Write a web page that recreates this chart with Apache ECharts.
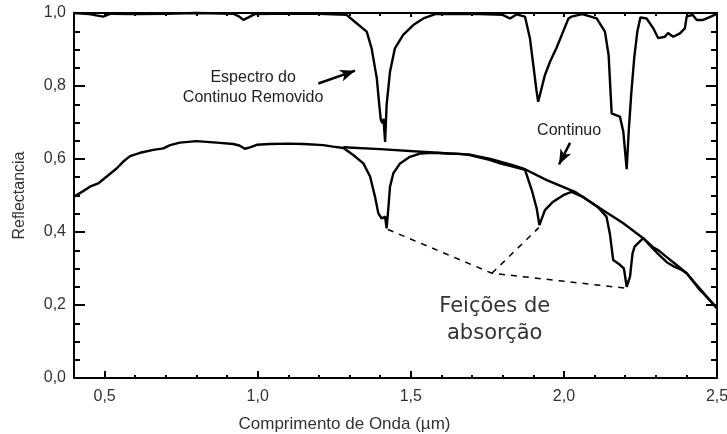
<!DOCTYPE html>
<html>
<head>
<meta charset="utf-8">
<script src="https://cdn.jsdelivr.net/npm/echarts@6/dist/echarts.min.js"></script>
<style>
  html, body { margin: 0; padding: 0; background: #fff; }
  #chart { width: 727px; height: 434px; }
</style>
</head>
<body>
<div id="chart"></div>
<script>
// Reflectance spectrum (µm, reflectance)
const specWl = [0.40, 0.43, 0.452, 0.479, 0.507, 0.539, 0.561, 0.583, 0.616, 0.659, 0.692, 0.714, 0.746, 0.80, 0.866, 0.92, 0.94, 0.958, 0.975, 0.997, 1.04, 1.10, 1.149, 1.214, 1.246, 1.28, 1.312, 1.345, 1.367, 1.383, 1.394, 1.405, 1.416, 1.421, 1.427, 1.432, 1.443, 1.465, 1.497, 1.53, 1.573, 1.62, 1.661, 1.693, 1.726, 1.76, 1.791, 1.83, 1.873, 1.895, 1.911, 1.92, 1.938, 1.965, 1.998, 2.025, 2.06, 2.09, 2.112, 2.139, 2.15, 2.161, 2.183, 2.196, 2.205, 2.216, 2.224, 2.231, 2.259, 2.29, 2.31, 2.335, 2.36, 2.385, 2.401, 2.44, 2.466, 2.50];
const specRefl = [0.497, 0.512, 0.524, 0.533, 0.552, 0.574, 0.593, 0.608, 0.617, 0.625, 0.629, 0.638, 0.645, 0.649, 0.645, 0.641, 0.637, 0.628, 0.632, 0.639, 0.641, 0.642, 0.641, 0.638, 0.634, 0.630, 0.611, 0.588, 0.552, 0.497, 0.451, 0.437, 0.442, 0.410, 0.469, 0.524, 0.561, 0.588, 0.606, 0.615, 0.617, 0.615, 0.614, 0.611, 0.604, 0.597, 0.588, 0.580, 0.570, 0.515, 0.465, 0.419, 0.460, 0.483, 0.501, 0.510, 0.497, 0.480, 0.467, 0.442, 0.396, 0.323, 0.310, 0.300, 0.250, 0.278, 0.341, 0.360, 0.383, 0.355, 0.338, 0.318, 0.305, 0.296, 0.287, 0.245, 0.223, 0.191];

// Continuum (convex hull) over the absorption region
const hullWl = [1.28, 1.40, 1.573, 1.693, 1.76, 1.83, 1.873, 1.944, 2.036, 2.118, 2.194, 2.259, 2.29, 2.31, 2.335, 2.36, 2.401, 2.466, 2.50];
const hullRefl = [0.632, 0.627, 0.618, 0.612, 0.600, 0.584, 0.572, 0.542, 0.510, 0.465, 0.424, 0.383, 0.359, 0.349, 0.332, 0.315, 0.287, 0.223, 0.191];

// Continuum-removed spectrum
const removedWl = [0.40, 0.45, 0.495, 0.52, 0.60, 0.70, 0.80, 0.92, 0.94, 0.953, 0.97, 0.99, 1.05, 1.20, 1.29, 1.323, 1.356, 1.372, 1.389, 1.397, 1.402, 1.408, 1.411, 1.416, 1.421, 1.432, 1.448, 1.475, 1.508, 1.541, 1.58, 1.70, 1.80, 1.824, 1.845, 1.873, 1.889, 1.90, 1.911, 1.916, 1.938, 1.955, 1.976, 1.998, 2.01, 2.015, 2.025, 2.06, 2.107, 2.134, 2.146, 2.156, 2.17, 2.183, 2.194, 2.205, 2.212, 2.22, 2.23, 2.24, 2.25, 2.27, 2.292, 2.308, 2.33, 2.34, 2.357, 2.379, 2.395, 2.401, 2.42, 2.434, 2.455, 2.48, 2.50];
const removedRefl = [1.0, 0.997, 0.99, 0.998, 0.997, 0.998, 1.0, 0.998, 0.99, 0.981, 0.988, 0.997, 0.998, 0.998, 0.995, 0.972, 0.949, 0.903, 0.821, 0.748, 0.707, 0.698, 0.710, 0.647, 0.748, 0.839, 0.903, 0.940, 0.967, 0.985, 0.997, 0.998, 0.995, 0.985, 0.996, 0.990, 0.931, 0.858, 0.784, 0.757, 0.830, 0.867, 0.905, 0.950, 0.975, 0.985, 0.990, 0.997, 0.985, 0.949, 0.885, 0.725, 0.720, 0.716, 0.675, 0.572, 0.680, 0.780, 0.880, 0.950, 0.988, 0.985, 0.958, 0.931, 0.935, 0.945, 0.935, 0.944, 0.958, 0.990, 0.995, 0.981, 0.981, 0.990, 0.998];

// Band-depth guides linking the absorption minima
const guideWlA = [1.425, 1.765, 2.203];
const guideReflA = [0.407, 0.287, 0.246];
const guideWlB = [1.765, 1.918];
const guideReflB = [0.287, 0.412];

// Axis titles and annotations
const xTitle = 'Comprimento de Onda (µm)';
const yTitle = 'Reflectancia';
const removedNote = 'Espectro do\nContinuo Removido';
const hullNote = 'Continuo';
const featureNote = 'Feições de\nabsorção';
const removedNotePos = [0.985, 0.796];
const hullNotePos = [2.017, 0.677];
const featureNotePos = [1.774, 0.158];
const removedArrow = [[1.198, 0.807], [1.318, 0.842]];
const hullArrow = [[2.02, 0.644], [1.984, 0.585]];

const zip = (xs, ys) => xs.map((x, i) => [x, ys[i]]);
const comma = v => v.toFixed(1).replace('.', ',');

const FONT = '"Liberation Sans", Arial, sans-serif';
const INK = '#000';

const chart = echarts.init(document.getElementById('chart'), null, { renderer: 'canvas' });

const baseX = {
  type: 'value', min: 0.4, max: 2.5, minInterval: 0.5, maxInterval: 0.5,
  splitLine: { show: false },
  axisLine: { show: true, onZero: false, lineStyle: { color: INK, width: 2 } }
};
const baseY = {
  type: 'value', min: 0, max: 1, interval: 0.2,
  splitLine: { show: false },
  axisLine: { show: true, onZero: false, lineStyle: { color: INK, width: 2 } }
};

const lineSeries = (data, extra) => Object.assign({
  type: 'line', data, showSymbol: false, symbol: 'none', smooth: false,
  silent: true, animation: false,
  lineStyle: { color: INK, width: 2.4 }
}, extra || {});

chart.setOption({
  animation: false,
  backgroundColor: '#fff',
  grid: { left: 74, right: 10, top: 13, bottom: 56, containLabel: false, outerBoundsMode: 'none' },
  xAxis: [
    Object.assign({}, baseX, {
      position: 'bottom',
      name: xTitle, nameLocation: 'middle', nameGap: 38,
      nameTextStyle: { fontFamily: FONT, fontSize: 17, color: '#333', padding: [0, 102, 0, 0] },
      axisTick: { show: true, inside: true, length: 7, lineStyle: { color: INK, width: 2 } },
      minorTick: { show: true, splitNumber: 5, length: 3, lineStyle: { color: INK, width: 2 } },
      axisLabel: { formatter: comma, fontFamily: FONT, fontSize: 16, color: '#333', margin: 11, showMinLabel: false }
    }),
    Object.assign({}, baseX, {
      position: 'top',
      axisTick: { show: true, inside: true, length: 4, lineStyle: { color: INK, width: 2 } },
      minorTick: { show: true, splitNumber: 5, length: 3, lineStyle: { color: INK, width: 2 } },
      axisLabel: { show: false }
    })
  ],
  yAxis: [
    Object.assign({}, baseY, {
      position: 'left',
      name: yTitle, nameLocation: 'middle', nameGap: 46, nameRotate: 90,
      nameTextStyle: { fontFamily: FONT, fontSize: 16, color: '#333' },
      axisTick: { show: true, inside: true, length: 11, lineStyle: { color: INK, width: 2 } },
      minorTick: { show: true, splitNumber: 4, length: 6, lineStyle: { color: INK, width: 2 } },
      axisLabel: { formatter: comma, fontFamily: FONT, fontSize: 16, color: '#333', margin: 8 }
    }),
    Object.assign({}, baseY, {
      position: 'right',
      axisTick: { show: true, inside: true, length: 11, lineStyle: { color: INK, width: 2 } },
      minorTick: { show: true, splitNumber: 4, length: 6, lineStyle: { color: INK, width: 2 } },
      axisLabel: { show: false }
    })
  ],
  series: [
    lineSeries(zip(specWl, specRefl)),
    lineSeries(zip(hullWl, hullRefl), {
      markLine: {
        silent: true, animation: false,
        symbol: ['none', 'arrow'], symbolSize: [9, 15],
        label: { show: false },
        lineStyle: { color: INK, width: 2.5, type: 'solid' },
        data: [
          [{ coord: removedArrow[0] }, { coord: removedArrow[1] }],
          [{ coord: hullArrow[0] }, { coord: hullArrow[1] }]
        ]
      }
    }),
    lineSeries(zip(removedWl, removedRefl), { clip: false }),
    lineSeries(zip(guideWlA, guideReflA), { lineStyle: { color: INK, width: 1.5, type: [6, 6] } }),
    lineSeries(zip(guideWlB, guideReflB), { lineStyle: { color: INK, width: 1.5, type: [6, 6] } })
  ]
});

// Text annotations placed in data coordinates
function note(text, pos, font, lineHeight, fill) {
  const p = chart.convertToPixel({ xAxisIndex: 0, yAxisIndex: 0 }, pos);
  return {
    type: 'text', x: p[0], y: p[1], silent: true, z: 10,
    style: { text, font, lineHeight, fill, align: 'center', verticalAlign: 'middle' }
  };
}
chart.setOption({
  graphic: [
    note(removedNote, removedNotePos, '16px ' + FONT, 20, '#222'),
    note(hullNote, hullNotePos, '16px ' + FONT, 20, '#222'),
    note(featureNote, featureNotePos, '21px "DejaVu Sans", sans-serif', 27, '#333')
  ]
});
</script>
</body>
</html>
